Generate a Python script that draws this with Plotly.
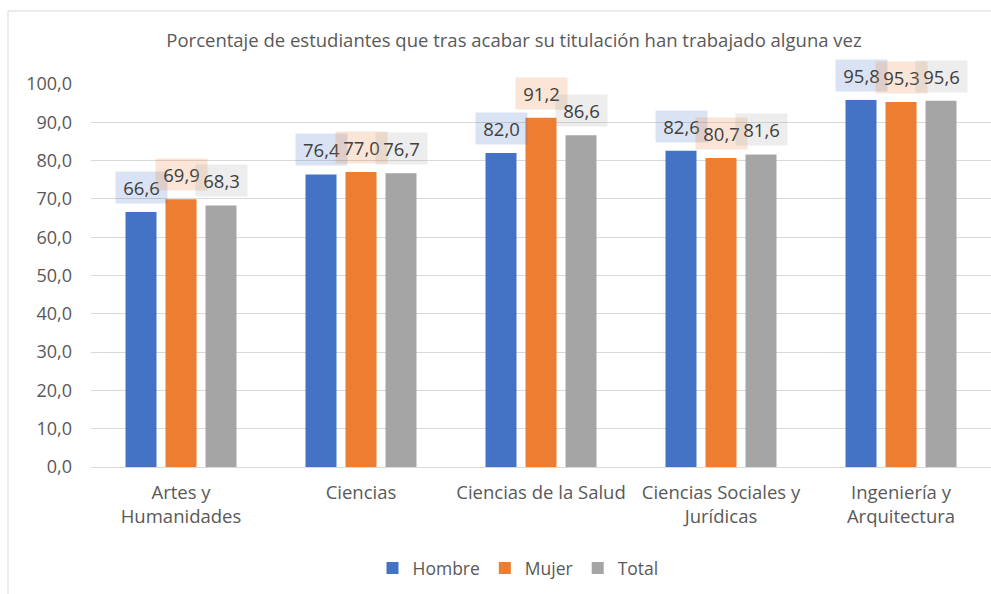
import plotly.graph_objects as go

categories = ["Artes y<br>Humanidades", "Ciencias", "Ciencias de la Salud",
              "Ciencias Sociales y<br>Jurídicas", "Ingeniería y<br>Arquitectura"]
hombre = [66.6, 76.4, 82.0, 82.6, 95.8]
mujer = [69.9, 77.0, 91.2, 80.7, 95.3]
total = [68.3, 76.7, 86.6, 81.6, 95.6]
series_names = ["Hombre", "Mujer", "Total"]
series_values = [hombre, mujer, total]
bar_colors = ["#4472C4", "#ED7D31", "#A5A5A5"]
label_bg = ["rgba(68,114,196,0.2)", "rgba(237,125,49,0.2)", "rgba(165,165,165,0.2)"]
title_text = "Porcentaje de estudiantes que tras acabar su titulación han trabajado alguna vez"

FONT = "Open Sans"
W, H = 991, 594
ML, MR, MT, MB = 91, 0, 84, 127
plot_w = W - ML - MR
plot_h = H - MT - MB

fig = go.Figure()
for name, vals, col in zip(series_names, series_values, bar_colors):
    fig.add_trace(go.Bar(x=categories, y=vals, name=name, marker=dict(color=col, line=dict(width=0))))

cat_w = plot_w / len(categories)
bargap = 1 / 3
slot = cat_w * (1 - bargap) / 3

annotations = []
for i, (vals, bg) in enumerate(zip(series_values, label_bg)):
    for c, v in zip(categories, vals):
        annotations.append(dict(
            x=c, y=v, xref="x", yref="y", xshift=(i - 1) * slot, yshift=8,
            yanchor="bottom", xanchor="center", showarrow=False,
            text=f"{v:.1f}".replace(".", ","),
            font=dict(family=FONT, size=18.5, color="#404040"),
            bgcolor=bg, width=51, height=31, borderpad=0,
        ))

fig.update_layout(
    width=W, height=H,
    margin=dict(l=ML, r=MR, t=MT, b=MB, pad=0, autoexpand=False),
    paper_bgcolor="white", plot_bgcolor="white",
    barmode="group", bargap=bargap, bargroupgap=0.225,
    separators=",.",
    font=dict(family=FONT, color="#595959"),
    title=dict(text=title_text, x=(514 - ML) / plot_w, xref="paper", xanchor="center",
               y=1 - 41 / H, yanchor="middle", yref="container",
               font=dict(family=FONT, size=18.5, color="#595959")),
    xaxis=dict(showgrid=False, showline=True, linecolor="#d9d9d9", linewidth=1,
               ticks="", tickfont=dict(family=FONT, size=18.5, color="#595959"),
               ticklabelstandoff=9, automargin=False),
    yaxis=dict(range=[0, 100], dtick=10, tickformat=".1f", showgrid=True,
               gridcolor="#d9d9d9", gridwidth=1, zeroline=False, showline=False,
               tickfont=dict(family=FONT, size=18, color="#595959"),
               ticklabelstandoff=18, automargin=False),
    legend=dict(orientation="h", x=(518 - ML) / plot_w, xanchor="center",
                y=(467 - 568) / plot_h, yanchor="middle",
                font=dict(family=FONT, size=17.5, color="#595959"),
                itemwidth=30, traceorder="normal"),
    annotations=annotations,
    shapes=[dict(type="rect", xref="paper", yref="paper",
                 x0=(8 - ML) / plot_w, x1=(1005 - ML) / plot_w,
                 y0=(467 - 610) / plot_h, y1=(467 - 11) / plot_h,
                 line=dict(color="#d9d9d9", width=1), fillcolor="rgba(0,0,0,0)",
                 layer="below")],
)

fig.write_html("out.html", config={"displayModeBar": False},
               post_script="document.body.style.margin='0';")
